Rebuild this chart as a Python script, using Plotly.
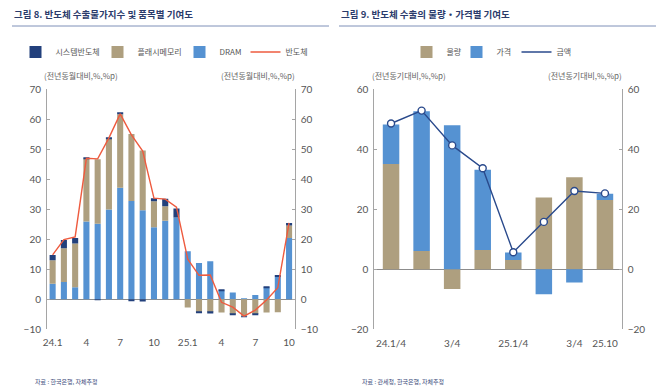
import plotly.graph_objects as go

# ---------------- Data: Figure 8 (monthly) ----------------
months = ["24.1", "24.2", "24.3", "24.4", "24.5", "24.6", "24.7", "24.8", "24.9", "24.10",
          "24.11", "24.12", "25.1", "25.2", "25.3", "25.4", "25.5", "25.6", "25.7", "25.8",
          "25.9", "25.10"]
dram = [5.2, 5.8, 4.0, 25.9, 25.2, 29.9, 37.2, 32.8, 29.7, 24.0,
        26.2, 27.3, 16.0, 12.1, 12.7, 2.9, 2.3, 0.2, 1.4, 3.9, 7.4, 20.4]
flash = [7.8, 11.2, 14.6, 21.0, 21.5, 23.5, 24.5, 22.3, 19.9, 8.7,
         4.8, 0.0, -2.7, -4.2, -4.3, -4.4, -4.9, -5.7, -4.9, -4.4, -4.3, 4.2]
system = [1.8, 2.8, 1.8, 0.2, -0.2, 0.4, 0.4, -0.4, -0.7, 1.0,
          2.5, 3.0, 0.0, -0.4, -0.4, 0.4, -0.2, -0.3, -0.2, 0.3, 0.7, 0.8]
semi_total = [14.8, 19.9, 20.8, 47.0, 46.8, 53.8, 61.8, 54.8, 49.4, 33.7,
              33.4, 30.7, 13.4, 8.0, 8.1, -1.0, -2.6, -5.6, -3.6, -0.2, 3.9, 25.5]
left_tickvals = ["24.1", "24.4", "24.7", "24.10", "25.1", "25.4", "25.7", "25.10"]
left_ticktext = ["24.1", "4", "7", "10", "25.1", "4", "7", "10"]

# ---------------- Data: Figure 9 (quarterly) ----------------
quarters = ["24.1/4", "24.2/4", "24.3/4", "24.4/4", "25.1/4", "25.2/4", "25.3/4", "25.10"]
volume = [35.1, 6.1, -6.6, 6.4, 3.1, 23.9, 30.7, 23.1]
price = [13.2, 46.6, 48.0, 26.8, 2.5, -8.3, -4.4, 2.1]
amount = [48.6, 52.9, 41.3, 33.7, 5.7, 15.8, 26.1, 25.3]
right_tickvals = ["24.1/4", "24.3/4", "25.1/4", "25.3/4", "25.10"]
right_ticktext = ["24.1/4", "3/4", "25.1/4", "3/4", "25.10"]

C_SYS = "#22407C"
C_FLASH = "#AE9F7F"
C_DRAM = "#5592D2"
C_RED = "#EE5B3F"
C_NAVY = "#2A4A8C"
KFONT = "Noto Sans CJK KR"
NFONT = "Lato"

fig = go.Figure()

# Left chart bars (DRAM bottom, flash, system)
fig.add_trace(go.Bar(x=months, y=dram, name="DRAM", marker_color=C_DRAM,
                     xaxis="x", yaxis="y", legend="legend3"))
fig.add_trace(go.Bar(x=months, y=flash, name="플래시메모리", marker_color=C_FLASH,
                     xaxis="x", yaxis="y", legend="legend2"))
fig.add_trace(go.Bar(x=months, y=system, name="시스템반도체", marker_color=C_SYS,
                     xaxis="x", yaxis="y", legend="legend"))
# line on the right-hand axis (identical range to the left one)
fig.add_trace(go.Scatter(x=months, y=semi_total, name="반도체", mode="lines",
                         line=dict(color=C_RED, width=1.4),
                         xaxis="x", yaxis="y3", legend="legend4"))

# Right chart bars
fig.add_trace(go.Bar(x=quarters, y=volume, name="물량", marker_color=C_FLASH,
                     xaxis="x2", yaxis="y2", legend="legend5"))
fig.add_trace(go.Bar(x=quarters, y=price, name="가격", marker_color=C_DRAM,
                     xaxis="x2", yaxis="y2", legend="legend6"))
fig.add_trace(go.Scatter(x=quarters, y=amount, name="금액", mode="lines+markers",
                         line=dict(color=C_NAVY, width=1.4),
                         marker=dict(size=7, color="white", line=dict(color=C_NAVY, width=1.4)),
                         xaxis="x2", yaxis="y4", showlegend=False))
# legend entry for the amount line (line only, as in the original legend)
fig.add_trace(go.Scatter(x=[None], y=[None], name="금액", mode="lines",
                         line=dict(color=C_NAVY, width=1.4),
                         xaxis="x2", yaxis="y4", legend="legend7"))

W, H = 670, 390
ydom = [1 - 329.3 / H, 1 - 89.3 / H]
tickfont = dict(family=NFONT, size=10, color="#555555")

yax_common = dict(showgrid=False, showline=True, linecolor="#A5A5A5", linewidth=1,
                  ticks="inside", ticklen=3, tickcolor="#A5A5A5", automargin=False,
                  ticklabelstandoff=3,
                  tickfont=tickfont, domain=ydom, fixedrange=True)


def leg(start_px):
    return dict(orientation="h", x=start_px / W, xanchor="left", y=1 - 52 / H, yanchor="middle",
                font=dict(family=KFONT, size=8, color="#555555"),
                bgcolor="rgba(0,0,0,0)", borderwidth=0, itemwidth=30)


fig.update_layout(
    width=W, height=H,
    margin=dict(l=0, r=0, t=0, b=0, autoexpand=False),
    paper_bgcolor="white", plot_bgcolor="white",
    barmode="relative",
    bargap=0.46,
    showlegend=True,
    font=dict(family=KFONT, color="#555555"),
    xaxis=dict(domain=[47 / W, 294.7 / W], anchor="y", tickmode="array",
               tickvals=left_tickvals, ticktext=left_ticktext, tickfont=tickfont,
               showgrid=False, showline=False, ticks="", ticklabelstandoff=6, automargin=False,
               categoryorder="array", categoryarray=months),
    yaxis=dict(range=[-10, 70], dtick=10, anchor="x", side="left",
               zeroline=True, zerolinecolor="#8C8C8C", zerolinewidth=1, **yax_common),
    yaxis3=dict(range=[-10, 70], dtick=10, anchor="x", overlaying="y", side="right",
                zeroline=False, **yax_common),
    xaxis2=dict(domain=[374.3 / W, 621.7 / W], anchor="y2", tickmode="array",
                tickvals=right_tickvals, ticktext=right_ticktext, tickfont=tickfont,
                showgrid=False, showline=False, ticks="", ticklabelstandoff=7, automargin=False,
                categoryorder="array", categoryarray=quarters),
    yaxis2=dict(range=[-20, 60], dtick=20, anchor="x2", side="left",
                zeroline=True, zerolinecolor="#8C8C8C", zerolinewidth=1, **yax_common),
    yaxis4=dict(range=[-20, 60], dtick=20, anchor="x2", overlaying="y2", side="right",
                zeroline=False, **yax_common),
    legend=leg(15.5), legend2=leg(97.5), legend3=leg(179.5), legend4=leg(245.5),
    legend5=leg(406.5), legend6=leg(456.5), legend7=leg(516.5),
)
fig.update_traces(selector=dict(type="bar"), marker_line_width=0)

title_color = "#2B3B6B"
annos = [
    dict(text="그림 8. 반도체 수출물가지수 및 품목별 기여도", x=12 / W, y=1 - 14 / H,
         font=dict(size=9.5, color=title_color, family=KFONT, weight="bold"), xanchor="left"),
    dict(text="그림 9. 반도체 수출의 물량・가격별 기여도", x=339 / W, y=1 - 14 / H,
         font=dict(size=9.5, color=title_color, family=KFONT, weight="bold"), xanchor="left"),
    dict(text="(전년동월대비,%,%p)", x=81 / W, y=1 - 75 / H,
         font=dict(size=8, color="#666666", family=KFONT), xanchor="center"),
    dict(text="(전년동월대비,%,%p)", x=258 / W, y=1 - 75 / H,
         font=dict(size=8, color="#666666", family=KFONT), xanchor="center"),
    dict(text="(전년동기대비,%,%p)", x=409 / W, y=1 - 75 / H,
         font=dict(size=8, color="#666666", family=KFONT), xanchor="center"),
    dict(text="(전년동기대비,%,%p)", x=585 / W, y=1 - 75 / H,
         font=dict(size=8, color="#666666", family=KFONT), xanchor="center"),
    dict(text="자료 : 한국은행, 자체추정", x=33 / W, y=1 - 381 / H,
         font=dict(size=6, color="#3A4A7A", family=KFONT), xanchor="left"),
    dict(text="자료 : 관세청, 한국은행, 자체추정", x=360 / W, y=1 - 381 / H,
         font=dict(size=6, color="#3A4A7A", family=KFONT), xanchor="left"),
]
for a in annos:
    fig.add_annotation(xref="paper", yref="paper", yanchor="middle", showarrow=False, **a)

# title underlines
fig.add_shape(type="line", xref="paper", yref="paper", x0=12 / W, x1=329 / W,
              y0=1 - 26 / H, y1=1 - 26 / H, line=dict(color="#7F90B8", width=1))
fig.add_shape(type="line", xref="paper", yref="paper", x0=339 / W, x1=656 / W,
              y0=1 - 26 / H, y1=1 - 26 / H, line=dict(color="#7F90B8", width=1))

fig.write_html("out.html", config={"displayModeBar": False},
               post_script="document.body.style.margin='0px';")
